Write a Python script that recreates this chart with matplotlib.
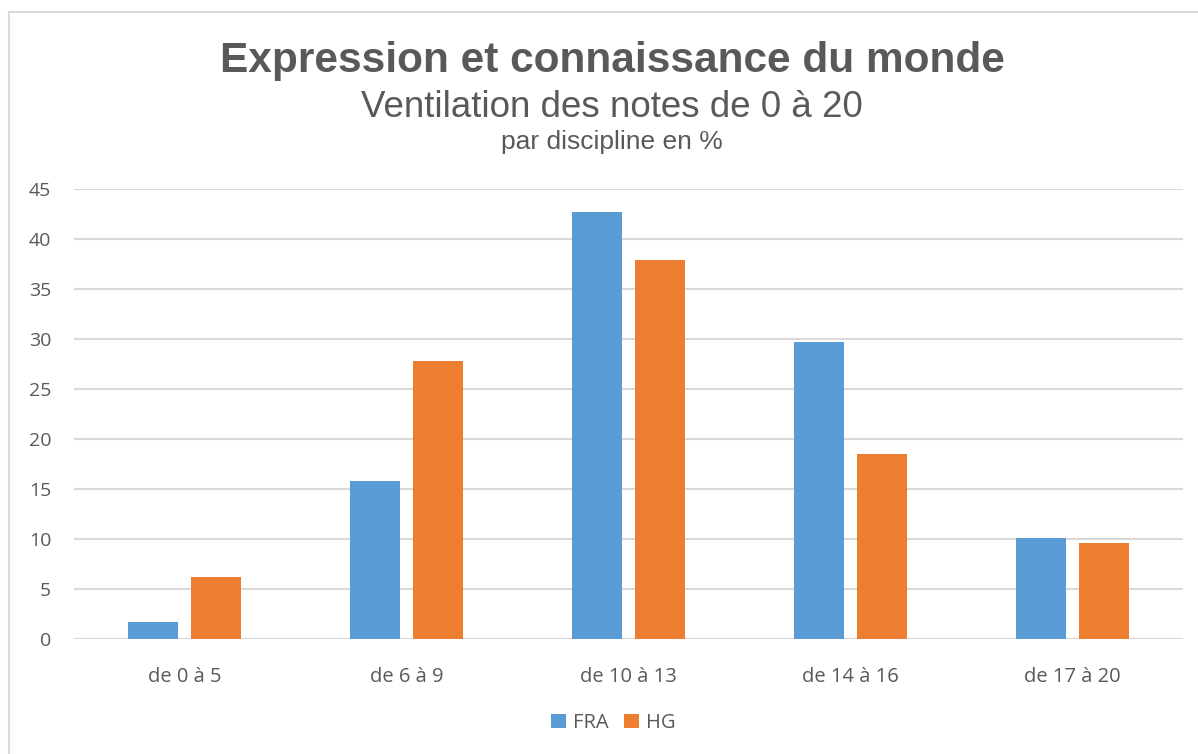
import matplotlib.pyplot as plt
import numpy as np
from matplotlib.patches import Rectangle

categories = ['de 0 à 5', 'de 6 à 9', 'de 10 à 13', 'de 14 à 16', 'de 17 à 20']
fra = [1.7, 15.8, 42.7, 29.7, 10.1]
hg = [6.2, 27.8, 37.9, 18.5, 9.6]

fig = plt.figure(figsize=(11.98, 7.54), dpi=100)

# light frame around the chart
fig.patches.append(Rectangle((9 / 1198, -0.01), 1.0, 1 - 12 / 754 + 0.01,
                             transform=fig.transFigure, fill=False,
                             edgecolor='#d9d9d9', linewidth=1.5))

ax = fig.add_axes([74 / 1198, 1 - 639 / 754, 1109 / 1198, 450 / 754])

x = np.arange(len(categories))
w = 0.225
ax.bar(x - 0.142, fra, w, color='#5b9bd5', label='FRA', zorder=3)
ax.bar(x + 0.142, hg, w, color='#ed7d31', label='HG', zorder=3)

ax.set_xlim(-0.5, len(categories) - 0.5)
ax.set_ylim(0, 45)
ax.set_yticks(range(0, 46, 5))
ax.yaxis.grid(True, color='#d9d9d9', linewidth=1.5, zorder=0)
for s in ax.spines.values():
    s.set_visible(False)
ax.tick_params(length=0, labelcolor='#595959', labelsize=14)
ax.tick_params(axis='y', pad=16.5)
ax.tick_params(axis='x', pad=20, labelsize=14.5)
ax.set_xticks(x)
ax.set_xticklabels(categories, family='Open Sans')
for lab in ax.get_yticklabels():
    lab.set_family('Open Sans')

fig.text(0.511, 1 - 72 / 754, 'Expression et connaissance du monde', ha='center', va='baseline',
         fontsize=30.5, fontweight='bold', color='#595959', family='Liberation Sans')
fig.text(0.511, 1 - 117 / 754, 'Ventilation des notes de 0 à 20', ha='center', va='baseline',
         fontsize=26.5, color='#595959', family='Liberation Sans')
fig.text(0.511, 1 - 149 / 754, 'par discipline en %', ha='center', va='baseline',
         fontsize=19, color='#595959', family='Liberation Sans')

leg = fig.legend(loc='center', bbox_to_anchor=(0.512, 1 - 723 / 754), ncol=2, frameon=False,
                 handlelength=0.75, handleheight=0.75, handletextpad=0.35, columnspacing=0.75,
                 prop={'family': 'Open Sans', 'size': 14.5})
for t in leg.get_texts():
    t.set_color('#595959')

fig.savefig('out.png', dpi=100)
